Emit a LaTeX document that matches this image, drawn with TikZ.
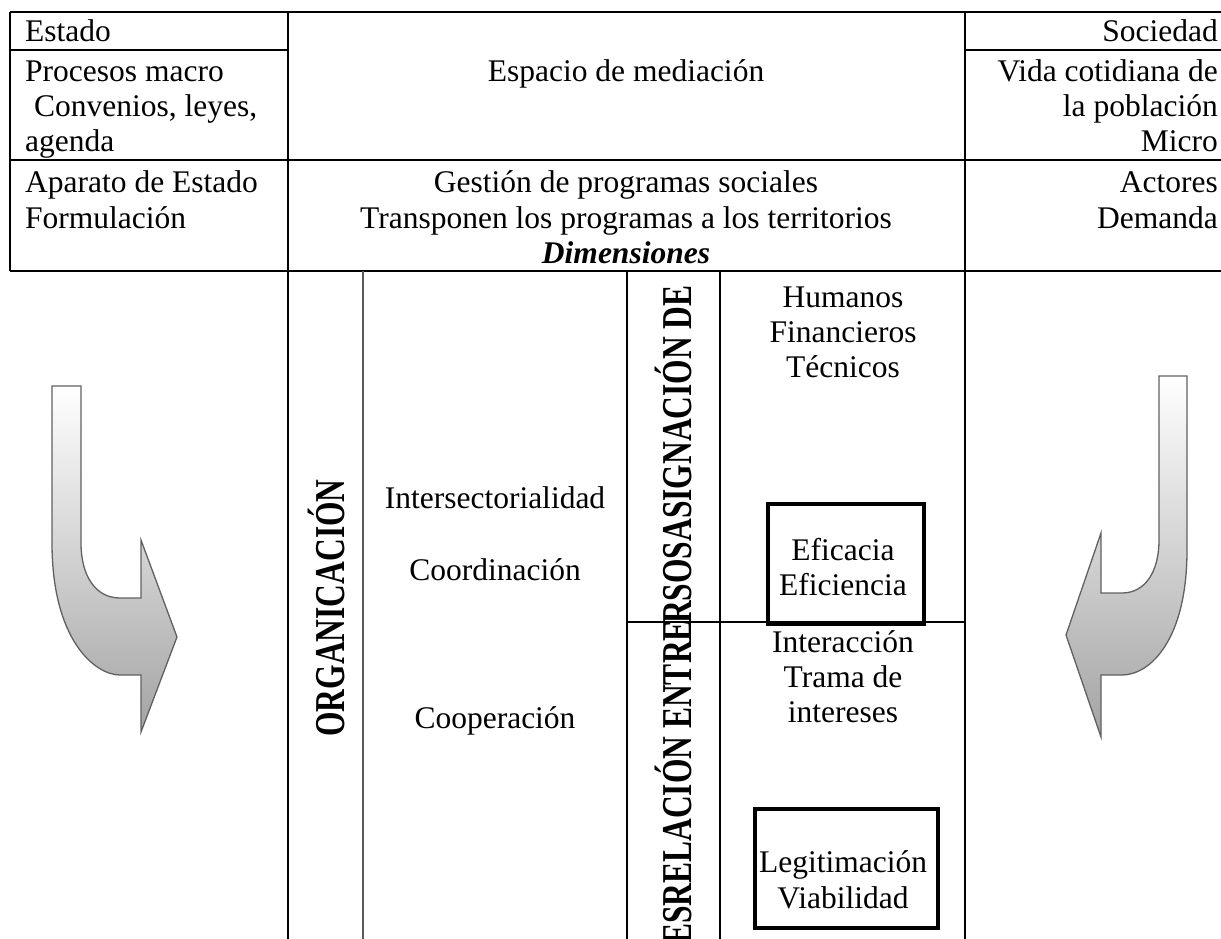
\documentclass[tikz,border=0pt]{standalone}
\usepackage{fontspec}
\setmainfont{Liberation Serif}
\begin{document}
\begin{tikzpicture}[x=1pt,y=-1pt,
  txt/.style={inner sep=0pt, font=\fontsize{31.5}{36}\selectfont},
  L/.style={txt, anchor=base west},
  R/.style={txt, anchor=base east},
  C/.style={txt, anchor=base},
  vert/.style={inner sep=0pt, font=\fontsize{31.5}{36}\selectfont\bfseries, rotate=90, yscale=1.35},
  grid/.style={line width=1.3pt, black},
  grayline/.style={line width=2pt, black!65},
  boxline/.style={line width=3.6pt, black},
  bentarrow/.style={draw=black!62, line width=1.3pt, top color=white, bottom color=gray!72}]
\useasboundingbox (0,0) rectangle (1221,939);
\begin{scope}
\clip (0,0) rectangle (1221,939);
% table lines
\draw[grid] (10,12) -- (1221,12);
\draw[grid] (10,12) -- (10,271);
\draw[grid] (288,12) -- (288,939);
\draw[grid] (965,12) -- (965,939);
\draw[grid] (10,50) -- (288,50);
\draw[grid] (965,50) -- (1221,50);
\draw[grid] (10,160) -- (1221,160);
\draw[grid] (10,271) -- (1221,271);
\draw[grid] (627,271) -- (627,939);
\draw[grid] (720,271) -- (720,939);
\draw[grid] (627,622) -- (965,622);
\draw[grayline] (363,271) -- (363,939);
% boxes
\draw[boxline] (768,504) rectangle (924,624);
\draw[boxline] (755,809) rectangle (938,928);
% arrows
\path[bentarrow] (52,386) -- (81,386) -- (81,543)
  .. controls (81,575) and (95,598) .. (120,598) -- (141,598) -- (141,540)
  -- (177,637) -- (141,732) -- (141,675) -- (120,675)
  .. controls (95,675) and (52,640) .. (52,543) -- cycle;
\path[bentarrow] (1187,376) -- (1159,376) -- (1159,540)
  .. controls (1159,572) and (1145,593) .. (1122,593) -- (1101,593) -- (1101,533)
  -- (1066,635) -- (1101,737) -- (1101,675) -- (1122,675)
  .. controls (1150,675) and (1187,640) .. (1187,550) -- cycle;
% left column
\node[L] (estado) at (25,42) {Estado};
\node[L] (proc) at (25,82) {Procesos macro};
\node[L] (conv) at (34,117) {Convenios, leyes,};
\node[L] (agenda) at (25,152) {agenda};
\node[L] (apar) at (25,193) {Aparato de Estado};
\node[L] (form) at (25,228) {Formulación};
% right column
\node[R] (soc) at (1218,42) {Sociedad};
\node[R] (vida) at (1218,82) {Vida cotidiana de};
\node[R] (pobl) at (1218,117) {la población};
\node[R] (micro) at (1218,152) {Micro};
\node[R] (act) at (1218,193) {Actores};
\node[R] (dem) at (1218,228) {Demanda};
% middle
\node[C] (esp) at (626,82) {Espacio de mediación};
\node[C] (gest) at (626,193) {Gestión de programas sociales};
\node[C] (trans) at (626,228) {Transponen los programas a los territorios};
\node[C, font=\fontsize{31.5}{36}\selectfont\bfseries\itshape] (dim) at (626,263) {Dimensiones};
% lower part
\node[vert, anchor=base] (org) at (344,608) {ORGANICACIÓN};
\node[C] (inter) at (495,508) {Intersectorialidad};
\node[C] (coord) at (495,580) {Coordinación};
\node[C] (coop) at (495,728) {Cooperación};
\node[vert, anchor=base east] (asig) at (691,285) {RSOSASIGNACIÓN DE};
\node[vert, anchor=base east] (rel) at (691,620) {ESRELACIÓN ENTRE};
\node[C] (hum) at (843,307) {Humanos};
\node[C] (fin) at (843,342) {Financieros};
\node[C] (tec) at (843,377) {Técnicos};
\node[C] (efa) at (843,560) {Eficacia};
\node[C] (efi) at (843,595) {Eficiencia};
\node[C] (inte) at (843,652) {Interacción};
\node[C] (trama) at (843,687) {Trama de};
\node[C] (intes) at (843,722) {intereses};
\node[C] (leg) at (843,872) {Legitimación};
\node[C] (via) at (843,908) {Viabilidad};
\end{scope}
\end{tikzpicture}
\end{document}
